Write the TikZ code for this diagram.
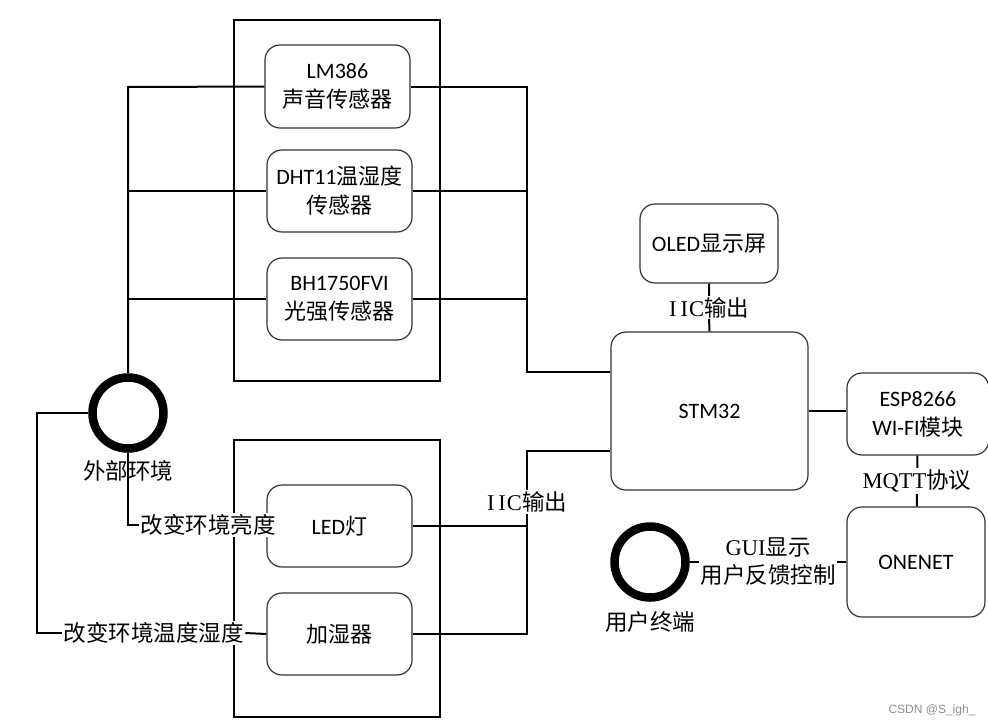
\documentclass[tikz,border=0pt]{standalone}
\usepackage{fontspec}
\setmainfont{Carlito}
\newfontfamily\cjk{Noto Sans CJK SC}
\newfontfamily\labfont{Liberation Serif}
\newfontfamily\markfont{Liberation Sans}
\begin{document}
\begin{tikzpicture}[x=1pt,y=-1pt,
    box/.style={draw=black!80,line width=1.2pt,rounded corners=15pt,fill=white,align=center,
      minimum width=145pt,minimum height=82pt,inner sep=2pt,font=\fontsize{22}{29}\selectfont},
    frame/.style={line width=2pt},
    link/.style={line width=2pt},
    ring/.style={circle,draw,line width=8.5pt,minimum size=71pt,inner sep=0pt},
    tag/.style={fill=white,inner sep=1.5pt,align=center,font=\fontsize{22.5}{28}\selectfont\cjk},
    ringlabel/.style={font=\fontsize{22.5}{28}\selectfont\cjk}]
  \useasboundingbox (0,0) rectangle (988,726);
  \draw[frame] (234,20) rectangle (440,381);
  \draw[frame] (234,440) rectangle (440,717);
  \node[box,minimum height=83pt] (lm) at (337.5,86.5) {LM386\\{\cjk 声音传感器}};
  \node[box] (dht) at (339.5,191) {DHT11{\cjk 温湿度}\\{\cjk 传感器}};
  \node[box] (bh) at (339.5,299) {BH1750FVI\\{\cjk 光强传感器}};
  \node[box] (led) at (339.5,526) {LED{\cjk 灯}};
  \node[box] (hum) at (339.5,634) {\cjk 加湿器};
  \node[box,minimum width=138pt,minimum height=79pt] (oled) at (709,243.5) {OLED{\cjk 显示屏}};
  \node[box,minimum width=197pt,minimum height=158pt] (stm) at (709.5,411) {STM32};
  \node[box,minimum width=142pt] (esp) at (918,414) {ESP8266\\WI-FI{\cjk 模块}};
  \node[box,minimum width=138pt,minimum height=110pt] (cloud) at (916,562) {ONENET};
  \node[ring] (env) at (128,413) {};
  \node[ring] (user) at (650,562) {};
  \node[ringlabel] (envname) at (128,471) {外部环境};
  \node[ringlabel] (username) at (650,622) {用户终端};
  \node[tag,anchor=west] (dim) at (139,525) {改变环境亮度};
  \node[tag,anchor=west] (wet) at (62,633) {改变环境温度湿度};
  \coordinate (envtop) at (128,87);
  \coordinate (busin) at (527,372);
  \coordinate (busout) at (527,451);
  \coordinate (loop) at (37,633);
  \begin{scope}[link]
    \draw (env.north) -- (envtop) -- (lm.west);
    \draw (env.north |- dht.west) -- (dht.west);
    \draw (env.north |- bh.west) -- (bh.west);
    \draw (lm.east) -| (busin) -- (stm.west |- busin);
    \draw (dht.east) -- (dht.east -| busin);
    \draw (bh.east) -- (bh.east -| busin);
    \draw (env.south) |- (dim.west);
    \draw (env.west) -| (loop) -- (wet.west);
    \draw (wet.east) -- (hum.west);
    \draw (led.east) -- (led.east -| busout);
    \draw (hum.east) -| node[tag,pos=0.86] {{\labfont I\hspace{4pt}I\hspace{1pt}C}输出} (busout) -- (stm.west |- busout);
    \draw (oled) -- node[tag] {{\labfont I\hspace{4pt}I\hspace{1pt}C}输出} (stm);
    \draw (stm.east) -- (stm.east -| esp.west);
    \draw (esp) -- node[tag] {{\labfont MQTT}协议} (cloud);
    \draw (user) -- node[tag] {{\labfont GUI}显示\\用户反馈控制} (cloud);
  \end{scope}
  \node[text=black!45,font=\markfont\fontsize{12}{14}\selectfont] (mark) at (932,710) {CSDN @S\_igh\_};
\end{tikzpicture}
\end{document}
